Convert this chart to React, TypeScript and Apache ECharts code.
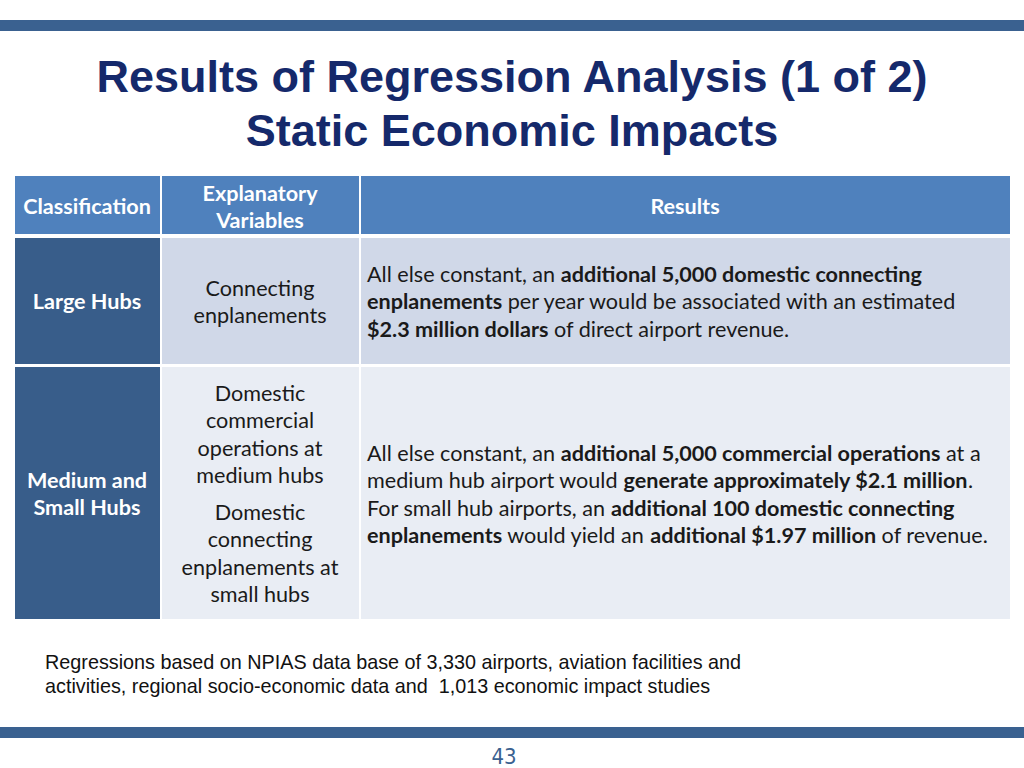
import React, { useEffect, useRef } from "react";
import * as echarts from "echarts";

const titleLines = ["Results of Regression Analysis (1 of 2)", "Static Economic Impacts"];
const headerLabels = ["Classification", "Explanatory\nVariables", "Results"];
const classifications = ["Large Hubs", "Medium and\nSmall Hubs"];
const variableLines1 = ["Connecting", "enplanements"];
const variableLines2a = ["Domestic", "commercial", "operations at", "medium hubs"];
const variableLines2b = ["Domestic", "connecting", "enplanements at", "small hubs"];
// segments: [text, bold]
const results1: [string, boolean][][] = [
  [["All else constant, an ", false], ["additional 5,000 domestic connecting", true]],
  [["enplanements", true], [" per year would be associated with an estimated", false]],
  [["$2.3 million dollars", true], [" of direct airport revenue.", false]],
];
const results2: [string, boolean][][] = [
  [["All else constant, an ", false], ["additional 5,000 commercial operations", true], [" at a", false]],
  [["medium hub airport would ", false], ["generate approximately $2.1 million", true], [".", false]],
  [["For small hub airports, an ", false], ["additional 100 domestic connecting", true]],
  [["enplanements", true], [" would yield an ", false], ["additional $1.97 million", true], [" of revenue.", false]],
];
const footnoteLines = [
  "Regressions based on NPIAS data base of 3,330 airports, aviation facilities and",
  "activities, regional socio-economic data and  1,013 economic impact studies",
];
const pageNumber = "43";

const BAR = "#3A6190";
const HEAD = "#4F81BD";
const DARK = "#385D8A";
const LIGHT1 = "#D0D8E8";
const LIGHT2 = "#E9EDF4";
const BODY_FONT = "Lato, 'Open Sans', sans-serif";
const BODY_SIZE = 21.6;
const TXT = "#1a1a1a";

function richLine(segs: [string, boolean][]) {
  return segs
    .map(([t, b]) => `{${b ? "b" : "n"}|${t.replace(/[{}|]/g, "")}}`)
    .join("");
}

export default function App() {
  const ref = useRef<HTMLDivElement>(null);
  useEffect(() => {
    if (!ref.current) return;
    const chart = echarts.init(ref.current, null, { renderer: "svg" });
    const g: any[] = [];
    const rect = (x: number, y: number, w: number, h: number, fill: string) =>
      g.push({ type: "rect", shape: { x, y, width: w, height: h }, style: { fill }, silent: true });
    const text = (
      x: number,
      y: number,
      t: string,
      opts: { size?: number; bold?: boolean; fill?: string; align?: string; family?: string; lh?: number } = {}
    ) =>
      g.push({
        type: "text",
        x,
        y,
        silent: true,
        style: {
          text: t,
          fill: opts.fill ?? TXT,
          fontSize: opts.size ?? BODY_SIZE,
          fontWeight: opts.bold ? "bold" : "normal",
          fontFamily: opts.family ?? BODY_FONT,
          textAlign: opts.align ?? "center",
          textVerticalAlign: "middle",
          lineHeight: opts.lh ?? 27,
        },
      });

    // bars
    rect(0, 20, 1024, 11, BAR);
    rect(0, 727, 1024, 11, BAR);

    // title
    titleLines.forEach((t, i) =>
      text(512, 76 + i * 54, t, { size: 45, bold: true, fill: "#15296B", family: "'Liberation Sans', Arial, sans-serif" })
    );

    // table cells
    const cols = [15, 162, 361];
    const colR = [160, 359, 1010];
    const rows = [
      [176, 234],
      [238, 364],
      [367, 619],
    ];
    cols.forEach((c, i) => rect(c, rows[0][0], colR[i] - c, rows[0][1] - rows[0][0], HEAD));
    [1, 2].forEach((r) => {
      const fill = r === 1 ? LIGHT1 : LIGHT2;
      rect(cols[0], rows[r][0], colR[0] - cols[0], rows[r][1] - rows[r][0], DARK);
      rect(cols[1], rows[r][0], colR[1] - cols[1], rows[r][1] - rows[r][0], fill);
      rect(cols[2], rows[r][0], colR[2] - cols[2], rows[r][1] - rows[r][0], fill);
    });

    // header texts
    text(87, 206, headerLabels[0], { bold: true, fill: "#ffffff" });
    text(260, 206, headerLabels[1], { bold: true, fill: "#ffffff" });
    text(685, 206, headerLabels[2], { bold: true, fill: "#ffffff" });

    // classification
    text(87, 301, classifications[0], { bold: true, fill: "#ffffff" });
    text(87, 493.5, classifications[1], { bold: true, fill: "#ffffff" });

    // variables
    variableLines1.forEach((t, i) => text(260, 288 + i * 27, t));
    variableLines2a.forEach((t, i) => text(260, 393 + i * 27.3, t));
    variableLines2b.forEach((t, i) => text(260, 512 + i * 27.3, t));

    // results (rich)
    const rich = {
      n: { fontSize: BODY_SIZE, fontFamily: BODY_FONT, fill: TXT, color: TXT },
      b: { fontSize: BODY_SIZE, fontFamily: BODY_FONT, fontWeight: "bold", fill: TXT, color: TXT },
    };
    const richText = (x: number, y: number, segs: [string, boolean][]) =>
      g.push({
        type: "text",
        x,
        y,
        silent: true,
        style: {
          text: richLine(segs),
          rich,
          fill: TXT,
          fontSize: BODY_SIZE,
          fontFamily: BODY_FONT,
          textAlign: "left",
          textVerticalAlign: "middle",
        },
      });
    results1.forEach((l, i) => richText(367, 274 + i * 27.3, l));
    results2.forEach((l, i) => richText(367, 453 + i * 27.3, l));

    // footnote
    footnoteLines.forEach((t, i) =>
      text(45, 662 + i * 24, t, { size: 19.8, fill: "#111111", align: "left", family: "'Liberation Sans', Arial, sans-serif" })
    );

    // page number
    text(504, 756, pageNumber, { size: 22, fill: BAR, family: "'DejaVu Sans Condensed', 'Liberation Sans Narrow', sans-serif" });

    chart.setOption({ animation: false, backgroundColor: "#ffffff", graphic: { elements: g } });
    return () => chart.dispose();
  }, []);
  return <div ref={ref} style={{ position: "fixed", left: 0, top: 0, width: 1024, height: 768, background: "#fff" }} />;
}
